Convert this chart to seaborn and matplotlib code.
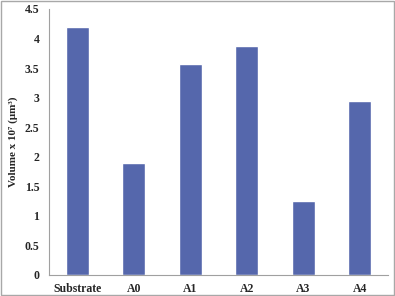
import matplotlib
matplotlib.use("Agg")
import matplotlib.pyplot as plt
import seaborn as sns
import pandas as pd
from matplotlib.patches import Rectangle

categories = ["Substrate", "A0", "A1", "A2", "A3", "A4"]
volumes = [4.2, 1.89, 3.57, 3.87, 1.25, 2.94]
yticks = [0, 0.5, 1, 1.5, 2, 2.5, 3, 3.5, 4, 4.5]
ytick_labels = ["0", "0.5", "1", "1.5", "2", "2.5", "3", "3.5", "4", "4.5"]

sns.set_style("white")
plt.rcParams['font.family'] = ['Liberation Serif', 'DejaVu Serif']

df = pd.DataFrame({"cat": categories, "vol": volumes})

fig = plt.figure(figsize=(3.95, 2.96), dpi=100)
ax = fig.add_axes([0.124, 0.071, 0.858, 0.899])
sns.barplot(data=df, x="cat", y="vol", color="#5567AC", saturation=1, width=0.41, ax=ax)

ax.set_ylim(0, 4.5)
ax.set_xlim(-0.5, 5.5)
ax.set_yticks(yticks)
ax.set_yticklabels(ytick_labels, fontsize=8.5, fontweight="bold")
ax.set_xticks(range(len(categories)))
ax.set_xticklabels(categories, fontsize=8.5, fontweight="bold")
ax.set_xticks([i - 0.5 for i in range(len(categories) + 1)], minor=True)
ax.tick_params(axis="x", which="major", length=0, pad=6)
ax.tick_params(axis="x", which="minor", length=3, color="#A0A0A0", width=0.8, direction="out")
ax.tick_params(axis="y", which="major", length=3, color="#A0A0A0", width=0.8, direction="out", pad=4)
ax.set_xlabel("")
ax.set_ylabel("Volume x 10⁷ (μm³)", fontsize=8, fontweight="bold", labelpad=5)

for s in ["top", "right"]:
    ax.spines[s].set_visible(False)
for s in ["left", "bottom"]:
    ax.spines[s].set_color("#A0A0A0")
    ax.spines[s].set_linewidth(0.8)

fig.patches.append(Rectangle((0.002, 0.003), 0.995, 0.993, transform=fig.transFigure,
                             fill=False, edgecolor="#A8A8A8", linewidth=1.0))

fig.savefig("out.png", dpi=100)
